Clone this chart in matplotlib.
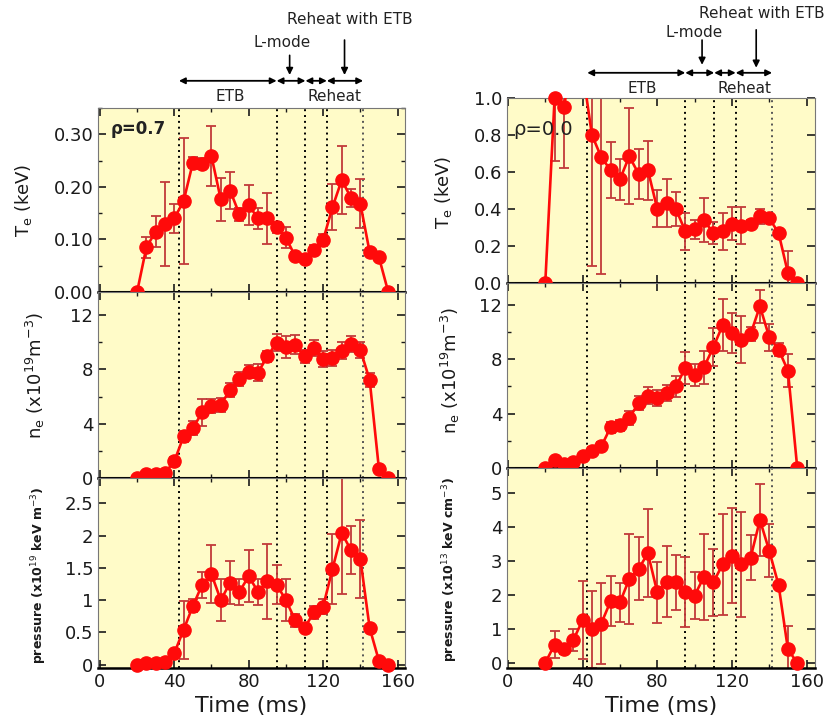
import numpy as np
import matplotlib.pyplot as plt
from matplotlib.ticker import MultipleLocator, FuncFormatter
from matplotlib.transforms import blended_transform_factory

# time base (ms) shared by every panel
time_ms = [20, 25, 30, 35, 40, 45, 50, 55, 60, 65, 70, 75, 80, 85,
           90, 95, 100, 105, 110, 115, 120, 125, 130, 135, 140, 145, 150, 155]

# rho = 0.7 (left column)
te_07 = [0, 0.085, 0.115, 0.129, 0.140, 0.173, 0.246, 0.244, 0.258, 0.176,
         0.193, 0.148, 0.165, 0.140, 0.140, 0.123, 0.103, 0.068, 0.063, 0.080,
         0.099, 0.161, 0.213, 0.179, 0.168, 0.076, 0.066, 0]
te_07_err = [0, 0.02, 0.03, 0.08, 0.027, 0.12, 0.01, 0.01, 0.057, 0.04,
             0.035, 0.012, 0.038, 0.02, 0.048, 0.01, 0.02, 0.008, 0.008, 0.01,
             0.012, 0.044, 0.064, 0.017, 0.047, 0.008, 0.005, 0]
ne_07 = [0, 0.32, 0.32, 0.37, 1.23, 3.06, 3.68, 4.83, 5.32, 5.39, 6.5, 7.28,
         7.84, 7.77, 8.95, 9.98, 9.63, 9.8, 8.95, 9.56, 8.75, 8.82, 9.39, 9.88,
         9.44, 7.23, 0.66, 0]
ne_07_err = [0, 0.1, 0.1, 0.1, 0.3, 0.4, 0.5, 1.0, 0.5, 0.5, 0.5, 0.5, 0.5,
             0.6, 0.4, 0.6, 0.8, 0.7, 0.5, 0.6, 0.6, 0.6, 0.6, 0.6, 0.6, 0.5,
             0.1, 0]
p_07 = [0, 0.03, 0.03, 0.04, 0.18, 0.54, 0.91, 1.24, 1.40, 1.00, 1.27, 1.13,
        1.37, 1.13, 1.29, 1.24, 1.00, 0.69, 0.57, 0.81, 0.90, 1.48, 2.04, 1.77,
        1.64, 0.57, 0.06, 0]
p_07_err = [0, 0, 0, 0, 0.05, 0.45, 0.1, 0.2, 0.45, 0.32, 0.33, 0.2, 0.40,
            0.2, 0.58, 0.3, 0.33, 0.1, 0.05, 0.1, 0.12, 0.54, 0.95, 0.37, 0.6,
            0.05, 0, 0]

# rho = 0.0 (right column); 35 and 40 ms are off scale in Te
te_00 = [0, 1.0, 0.95, 1.25, 1.15, 0.80, 0.68, 0.61, 0.56, 0.685, 0.59, 0.61,
         0.40, 0.43, 0.40, 0.28, 0.29, 0.34, 0.27, 0.28, 0.32, 0.31, 0.32,
         0.36, 0.35, 0.27, 0.054, 0]
te_00_err = [0, 0.34, 0.33, 0, 0, 0.71, 0.63, 0.15, 0.11, 0.26, 0.135, 0.16,
             0.10, 0.13, 0.09, 0.10, 0.05, 0.12, 0.06, 0.10, 0.09, 0.10, 0.02,
             0.04, 0.02, 0.02, 0.12, 0]
ne_00 = [0, 0.56, 0.32, 0.44, 0.86, 1.23, 1.59, 2.99, 3.14, 3.68, 4.78, 5.32,
         5.15, 5.51, 6.0, 7.35, 6.86, 7.4, 8.87, 10.49, 9.93, 9.44, 9.85, 11.89,
         9.61, 8.7, 7.16, 0]
ne_00_err = [0, 0.1, 0.1, 0.1, 0.2, 0.3, 0.3, 0.4, 0.4, 0.5, 0.5, 0.6, 0.6,
             0.6, 0.8, 1.2, 0.8, 1.2, 1.4, 1.9, 1.5, 1.7, 0.5, 1.2, 1.0, 0.5,
             1.2, 0]
p_00 = [0, 0.54, 0.40, 0.67, 1.26, 0.99, 1.16, 1.82, 1.78, 2.47, 2.77, 3.23,
        2.08, 2.39, 2.37, 2.08, 1.98, 2.54, 2.37, 2.90, 3.16, 2.90, 3.10, 4.21,
        3.30, 2.29, 0.40, 0]
p_00_err = [0, 0.4, 0.15, 0.33, 1.15, 1.13, 1.2, 0.74, 0.57, 1.33, 0.93, 1.3,
            0.9, 1.05, 0.8, 1.03, 0.69, 1.27, 0.98, 1.48, 1.41, 1.55, 0.67,
            1.05, 0.78, 0.1, 0.7, 0]

# phase boundaries (ms)
events = [42.5, 95, 110.5, 122, 141.5]
phase_names = ['ETB', 'Reheat']

RED = '#ff0a0a'
ERR = '#c23a3a'
BG = '#fffbc8'
W, H = 835, 728

plt.rcParams['font.family'] = 'DejaVu Sans'
fig = plt.figure(figsize=(W / 100, H / 100), dpi=100)


def px_axes(x0, x1, y0, y1):
    return fig.add_axes([x0 / W, 1 - y1 / H, (x1 - x0) / W, (y1 - y0) / H])


def style(ax, xlim, ylim, major, minor, fmt, bottom):
    ax.set_facecolor(BG)
    ax.set_xlim(*xlim)
    ax.set_ylim(*ylim)
    ax.xaxis.set_major_locator(MultipleLocator(40))
    ax.xaxis.set_minor_locator(MultipleLocator(20))
    ax.yaxis.set_major_locator(MultipleLocator(major))
    if minor:
        ax.yaxis.set_minor_locator(MultipleLocator(minor))
    ax.yaxis.set_major_formatter(FuncFormatter(lambda v, p: fmt % v))
    ax.tick_params(which='both', direction='in', top=True, right=True,
                   labelsize=13, colors='#1a1a1a')
    ax.tick_params(which='major', length=6, width=1.2)
    ax.tick_params(which='minor', length=3, width=1)
    for s in ax.spines.values():
        s.set_color('#777777')
        s.set_linewidth(0.8)
    ax.spines['bottom'].set_color('black')
    ax.spines['bottom'].set_linewidth(1.8)
    for t, c in zip(events, ['k', 'k', 'k', 'k', '#555555']):
        ax.axvline(t, color=c, ls=(0, (1, 2)), lw=1.4, zorder=1)
    if bottom:
        ax.xaxis.set_major_formatter(FuncFormatter(lambda v, p: '%d' % v))
        ax.set_xlabel('Time (ms)', fontsize=16, color='#1a1a1a')
    else:
        ax.axhline(0, color='black', lw=1.5, zorder=1)
        ax.tick_params(labelbottom=False)


def series(ax, y, err, mask_top=None):
    ax.errorbar(time_ms, y, yerr=err, fmt='none', ecolor=ERR,
                elinewidth=1.3, capsize=3.5, capthick=1.3, zorder=2)
    if mask_top is None:
        ax.plot(time_ms, y, '-o', color=RED, lw=1.9, ms=9.5, clip_on=False,
                zorder=3)
    else:
        ya = np.array(y, dtype=float)
        ax.plot(time_ms, ya, '-', color=RED, lw=1.9, zorder=3)
        ax.plot(time_ms, np.where(ya <= mask_top, ya, np.nan), 'o',
                color=RED, ms=9.5, clip_on=False, zorder=3)


def phases(ax, ya, yt, lm, rh):
    tr = blended_transform_factory(ax.transData, fig.transFigure)
    for a, b in zip(events[:-1], events[1:]):
        ax.annotate('', xy=(b, ya), xytext=(a, ya), xycoords=tr,
                    textcoords=tr, annotation_clip=False,
                    arrowprops=dict(arrowstyle='<|-|>', color='black', lw=1.3,
                                    mutation_scale=9, shrinkA=0, shrinkB=0))
    ax.text(yt[0], yt[2], phase_names[0], transform=tr, ha='center',
            va='center', fontsize=11, color='#222222')
    ax.text(yt[1], yt[2], phase_names[1], transform=tr, ha='center',
            va='center', fontsize=11, color='#222222')
    for (x, ytxt, y0, y1, txt) in [lm + ('L-mode',), rh + ('Reheat with ETB',)]:
        ax.text(x - 4 if txt == 'L-mode' else x + 3, ytxt, txt, transform=tr,
                ha='center', va='center', fontsize=11, color='#222222')
        ax.annotate('', xy=(x, y1), xytext=(x, y0), xycoords=tr,
                    textcoords=tr, annotation_clip=False,
                    arrowprops=dict(arrowstyle='-|>', color='black', lw=1.2,
                                    mutation_scale=10, shrinkA=0, shrinkB=0))


# left column, rho = 0.7
L = [px_axes(98, 405, 108, 292), px_axes(98, 405, 292, 478),
     px_axes(98, 405, 478, 668)]
style(L[0], (-1, 164), (0, 0.35), 0.1, 0.05, '%.2f', False)
style(L[1], (-1, 164), (0, 13.7), 4, 2, '%g', False)
style(L[2], (-1, 164), (-0.05, 2.89), 0.5, None, '%g', True)
series(L[0], te_07, te_07_err)
series(L[1], ne_07, ne_07_err)
series(L[2], p_07, p_07_err)
L[0].text(0.04, 0.86, 'ρ=0.7', transform=L[0].transAxes, fontsize=12,
          fontweight='bold', color='#222222')
phases(L[0], 0.889, (70, 126, 0.867),
       (102, 0.941, 0.924, 0.897), (131.5, 0.973, 0.945, 0.897))

# right column, rho = 0.0
R = [px_axes(507, 815, 98, 283), px_axes(507, 815, 283, 468),
     px_axes(507, 815, 468, 668)]
style(R[0], (-0.5, 164.5), (0, 1.0), 0.2, None, '%.1f', False)
style(R[1], (-0.5, 164.5), (0, 13.6), 4, 2, '%g', False)
style(R[2], (-0.5, 164.5), (-0.15, 5.74), 1, None, '%g', True)
series(R[0], te_00, te_00_err, mask_top=1.0)
series(R[1], ne_00, ne_00_err)
series(R[2], p_00, p_00_err)
R[0].text(0.02, 0.8, 'ρ=0.0', transform=R[0].transAxes, fontsize=14,
          color='#222222')
phases(R[0], 0.9, (72, 127, 0.879),
       (104, 0.955, 0.945, 0.911), (133, 0.982, 0.959, 0.907))

# y labels
labels = [
    (24, 200, r'T$_{\rm e}$ (keV)', 13, 'normal'),
    (35, 375, r'n$_{\rm e}$ (x10$^{19}$m$^{-3}$)', 13, 'normal'),
    (39, 575, r'pressure (x10$^{19}$ keV m$^{-3}$)', 9, 'bold'),
    (443, 192, r'T$_{\rm e}$ (keV)', 13, 'normal'),
    (450, 370, r'n$_{\rm e}$ (x10$^{19}$m$^{-3}$)', 13, 'normal'),
    (450, 570, r'pressure (x10$^{13}$ keV cm$^{-3}$)', 9, 'bold'),
]
for x, y, txt, fs, fw in labels:
    fig.text(x / W, 1 - y / H, txt, rotation=90, ha='center', va='center',
             fontsize=fs, fontweight=fw, color='#1a1a1a')

fig.savefig('out.png', dpi=100)
